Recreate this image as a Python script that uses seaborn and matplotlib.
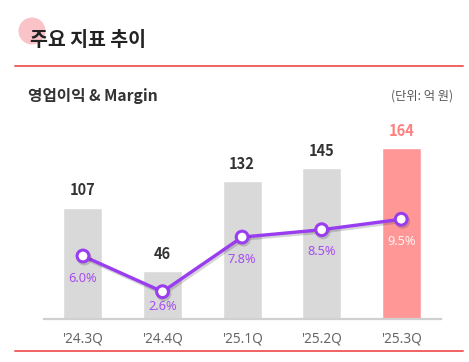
import matplotlib
matplotlib.use("Agg")
import matplotlib.pyplot as plt
import matplotlib.patheffects as pe
from matplotlib.patches import Circle
from matplotlib.lines import Line2D
import seaborn as sns
import pandas as pd

quarters = ["'24.3Q", "'24.4Q", "'25.1Q", "'25.2Q", "'25.3Q"]
op_income = [107, 46, 132, 145, 164]
margin = [6.0, 2.6, 7.8, 8.5, 9.5]
margin_labels = ["6.0%", "2.6%", "7.8%", "8.5%", "9.5%"]

sns.set_theme(style="white")
plt.rcParams['font.family'] = ['Noto Sans CJK KR', 'DejaVu Sans']

W, H = 469, 362
fig = plt.figure(figsize=(W / 100, H / 100), dpi=100)
fig.patch.set_facecolor("white")

# axes: baseline at y=319 px, top at y=120 px, x from 44 to 441 px
ax = fig.add_axes([44 / W, (H - 319) / H, (441 - 44) / W, (319 - 120) / H])
ax.set_facecolor("none")

df = pd.DataFrame({"q": quarters, "v": op_income, "m": margin})
bar_colors = ["#d9d9d9"] * 4 + ["#ff9797"]
sns.barplot(data=df, x="q", y="v", hue="q", palette=bar_colors, legend=False,
            width=0.49, ax=ax, saturation=1)
ax.set_xlim(-0.49, 4.5)
ax.set_ylim(0, 191)
ax.set_xlabel("")
ax.set_ylabel("")
ax.set_yticks([])
for s in ["top", "right", "left"]:
    ax.spines[s].set_visible(False)
ax.spines["bottom"].set_color("#d0d0d0")
ax.spines["bottom"].set_linewidth(1.6)
ax.tick_params(axis="x", length=0, pad=9, labelsize=9.8, labelcolor="#666666")
for t in ax.get_xticklabels():
    t.set_family(["Noto Sans", "DejaVu Sans"])

for i, v in enumerate(op_income):
    col = "#ff7f7f" if i == 4 else "#333333"
    ax.annotate(str(v), (i, v), xytext=(0, 12.3), textcoords="offset points",
                ha="center", va="center", fontsize=10.5, fontweight="bold",
                color=col)

ax2 = ax.twinx()
ax2.set_ylim(0, 18.95)
ax2.axis("off")
purple = "#9a3cf0"
sns.lineplot(x=list(range(len(margin))), y=margin, ax=ax2, color=purple,
             linewidth=2.4, marker="o", markersize=8.5, markerfacecolor="white",
             markeredgecolor=purple, markeredgewidth=2.2,
             path_effects=[pe.SimpleLineShadow(offset=(1, -1.5), alpha=0.18), pe.Normal()])
for i, (m, lab) in enumerate(zip(margin, margin_labels)):
    off = -11 if i == 1 else -16
    col = "#fff2f2" if i == 4 else "#a64cf0"
    ax2.annotate(lab, (i, m), xytext=(0, off), textcoords="offset points",
                 ha="center", va="center", fontsize=9.2, color=col,
                 family=["Noto Sans", "DejaVu Sans"])

# decorations
fig.add_artist(Circle((32 / 100, (H - 31) / 100), 13.5 / 100,
                      transform=fig.dpi_scale_trans, color="#f8b9be", alpha=0.85, lw=0))
fig.text(30 / W, 1 - 40 / H, "주요 지표 추이", fontsize=14, fontweight="bold",
         color="#222222", va="center", ha="left")
fig.add_artist(Line2D([15 / W, 463 / W], [1 - 65.5 / H] * 2, color="#f06262", lw=1.4))
fig.text(28 / W, 1 - 96 / H, "영업이익 & Margin", fontsize=11.3, fontweight="bold",
         color="#333333", va="center", ha="left")
fig.text(453 / W, 1 - 96 / H, "(단위: 억 원)", fontsize=8.8,
         color="#555555", va="center", ha="right")
fig.add_artist(Line2D([15 / W, 463 / W], [1 - 350.5 / H] * 2, color="#f06262", lw=1.4))

fig.savefig("out.png", dpi=100, facecolor="white")
